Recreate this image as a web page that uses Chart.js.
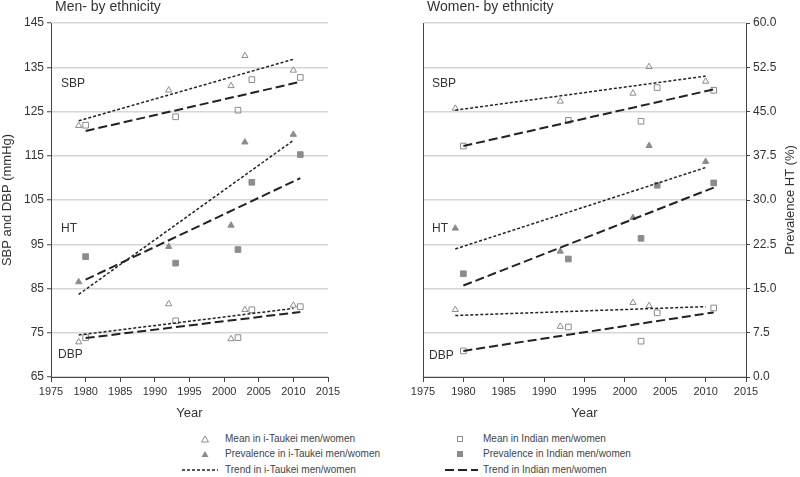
<!DOCTYPE html>
<html lang="en">
<head>
  <meta charset="UTF-8" />
  <title>Blood pressure and hypertension by ethnicity</title>
  <script src="https://cdn.jsdelivr.net/npm/chart.js"></script>
  <style>
    body {
      margin: 0;
      background: #fff;
      font-family: 'Liberation Sans', Arial, sans-serif;
      color: #333;
    }
    #wrap { position: relative; width: 800px; height: 477px; overflow: hidden; }
    canvas { position: absolute; top: 0; }
    .title { position: absolute; top: -2px; font-size: 14px; line-height: 16px; color: #333; }
    .tag { position: absolute; font-size: 12px; line-height: 14px; color: #333; }
    .ytitle2 {
      position: absolute; left: 690px; top: 192px; width: 200px;
      text-align: center; font-size: 13px; line-height: 16px;
      transform: rotate(-90deg);
    }
    .leg { position: absolute; font-size: 10px; line-height: 12px; color: #444; white-space: nowrap; }
    #legsym { position: absolute; left: 0; top: 425px; }
  </style>
</head>
<body>
<div id="wrap">
  <canvas id="men" width="400" height="425" style="left:0"></canvas>
  <canvas id="women" width="400" height="425" style="left:400px"></canvas>

  <div class="title" style="left:55px">Men- by ethnicity</div>
  <div class="title" style="left:427px">Women- by ethnicity</div>

  <div class="tag" style="left:61px; top:76px">SBP</div>
  <div class="tag" style="left:61px; top:221px">HT</div>
  <div class="tag" style="left:58px; top:347px">DBP</div>
  <div class="tag" style="left:432px; top:76px">SBP</div>
  <div class="tag" style="left:432px; top:221px">HT</div>
  <div class="tag" style="left:429px; top:348px">DBP</div>

  <div class="ytitle2">Prevalence HT (%)</div>

  <svg id="legsym" width="800" height="52">
    <polygon points="205,11 208.5,17 201.5,17" fill="none" stroke="#8c8c8c" stroke-width="1" />
    <polygon points="205,26 208.5,32 201.5,32" fill="#8c8c8c" />
    <line x1="182" y1="45" x2="218" y2="45" stroke="#222" stroke-width="1.5" stroke-dasharray="3,2" />
    <rect x="457.5" y="11.5" width="5" height="5" fill="none" stroke="#8c8c8c" stroke-width="1" />
    <rect x="457" y="26" width="6" height="6" fill="#8c8c8c" />
    <line x1="445" y1="45" x2="478" y2="45" stroke="#222" stroke-width="2" stroke-dasharray="9,4" />
  </svg>
  <div class="leg" style="left:225px; top:433px">Mean in i-Taukei men/women</div>
  <div class="leg" style="left:225px; top:448px">Prevalence in i-Taukei men/women</div>
  <div class="leg" style="left:225px; top:464px">Trend in i-Taukei men/women</div>
  <div class="leg" style="left:483px; top:433px">Mean in Indian men/women</div>
  <div class="leg" style="left:483px; top:448px">Prevalence in Indian men/women</div>
  <div class="leg" style="left:483px; top:464px">Trend in Indian men/women</div>
</div>

<script>
  // survey years
  const yearsTk = [1979, 1992, 2001, 2003, 2010];
  const yearsInd = [1980, 1993, 2002, 2004, 2011];

  // men, mmHg
  const menSbpTk = [121.8, 129.8, 130.8, 137.6, 134.3];
  const menSbpInd = [121.9, 123.8, 125.3, 132.2, 132.7];
  const menDbpTk = [72.9, 81.5, 73.6, 80.2, 81.2];
  const menDbpInd = [73.9, 77.7, 73.9, 80.2, 80.9];
  // men, prevalence HT (%)
  const menHtTk = [16.1, 22.1, 25.7, 39.8, 41.1];
  const menHtInd = [20.4, 19.3, 21.6, 33.0, 37.7];

  // women, mmHg
  const womenSbpTk = [125.7, 127.3, 129.1, 135.1, 131.8];
  const womenSbpInd = [117.2, 123.0, 122.8, 130.4, 129.8];
  const womenDbpYearsTk = [1979, 1992, 2001, 2003];
  const womenDbpTk = [80.2, 76.4, 81.8, 81.1];
  const womenDbpInd = [70.9, 76.3, 73.1, 79.5, 80.6];
  // women, prevalence HT (%)
  const womenHtTk = [25.2, 21.3, 27.0, 39.2, 36.5];
  const womenHtInd = [17.5, 20.0, 23.5, 32.5, 32.9];

  // trend lines (start / end)
  const trendYearsTk = [1979, 2010];
  const trendYearsInd = [1980, 2011];
  const menTrendSbpTk = [122.9, 136.8];
  const menTrendSbpInd = [120.6, 131.7];
  const menTrendDbpTk = [74.5, 80.5];
  const menTrendDbpInd = [73.8, 79.7];
  const menTrendHtTk = [14.0, 40.1];
  const menTrendHtInd = [16.5, 33.7];
  const womenTrendSbpTk = [125.3, 133.0];
  const womenTrendSbpInd = [117.2, 130.0];
  const womenTrendDbpTk = [78.9, 80.9];
  const womenTrendDbpInd = [70.9, 79.6];
  const womenTrendHtTk = [21.7, 35.5];
  const womenTrendHtInd = [15.5, 32.1];

  const sans = "'Liberation Sans', Arial, sans-serif";
  const markGrey = '#8c8c8c';

  function pts(xs, ys) {
    return xs.map((x, i) => ({ x: x, y: ys[i] }));
  }

  function marks(xs, ys, style, filled, axis) {
    return {
      data: pts(xs, ys),
      yAxisID: axis,
      showLine: false,
      pointStyle: style,
      pointRadius: style === 'rect' ? 4 : 3.6,
      pointBorderWidth: 1,
      pointBorderColor: markGrey,
      pointBackgroundColor: filled ? markGrey : 'rgba(0,0,0,0)'
    };
  }

  function trend(xs, ys, indian, axis) {
    return {
      data: pts(xs, ys),
      yAxisID: axis,
      showLine: true,
      borderColor: '#222',
      borderWidth: indian ? 2 : 1.5,
      borderDash: indian ? [9, 4] : [3, 2],
      pointRadius: 0,
      fill: false
    };
  }

  function makeOptions(isLeft) {
    return {
      responsive: false,
      animation: false,
      layout: { padding: { top: 23, right: isLeft ? 18 : 0, left: 0, bottom: 0 } },
      plugins: { legend: { display: false }, tooltip: { enabled: false } },
      scales: {
        x: {
          type: 'linear', min: 1975, max: 2015,
          ticks: {
            stepSize: 5, color: '#333', font: { family: sans, size: 11 }, padding: 3,
            maxRotation: 0, autoSkip: false, callback: v => String(v)
          },
          grid: { drawOnChartArea: false, drawTicks: true, tickLength: 5, tickColor: '#444' },
          border: { color: '#444', width: 1 },
          title: { display: true, text: 'Year', color: '#333', font: { family: sans, size: 13 }, padding: { top: 0, bottom: 4 } },
          afterFit: s => { s.height = 48; }
        },
        y: {
          position: 'left', min: 65, max: 145,
          ticks: { display: isLeft, stepSize: 10, color: '#333', font: { family: sans, size: 12 }, padding: 3 },
          grid: { color: '#d6d6d6', lineWidth: 1.5, drawTicks: isLeft, tickLength: 4, tickColor: '#444', tickWidth: 1 },
          border: { color: '#444', width: 1 },
          title: { display: isLeft, text: 'SBP and DBP (mmHg)', color: '#333', font: { family: sans, size: 13 }, padding: { top: 0, bottom: 0 } },
          afterFit: s => { s.width = isLeft ? 51 : 23; }
        },
        y2: {
          position: 'right', min: 0, max: 60, display: !isLeft,
          ticks: { stepSize: 7.5, color: '#333', font: { family: sans, size: 12 }, padding: 3, callback: v => v.toFixed(1) },
          grid: { drawOnChartArea: false, drawTicks: true, tickLength: 4, tickColor: '#444' },
          border: { color: '#444', width: 1 },
          afterFit: s => { s.width = 54; }
        }
      }
    };
  }

  new Chart(document.getElementById('men'), {
    type: 'scatter',
    data: {
      datasets: [
        trend(trendYearsTk, menTrendSbpTk, false, 'y'),
        trend(trendYearsInd, menTrendSbpInd, true, 'y'),
        trend(trendYearsTk, menTrendDbpTk, false, 'y'),
        trend(trendYearsInd, menTrendDbpInd, true, 'y'),
        trend(trendYearsTk, menTrendHtTk, false, 'y2'),
        trend(trendYearsInd, menTrendHtInd, true, 'y2'),
        marks(yearsTk, menSbpTk, 'triangle', false, 'y'),
        marks(yearsInd, menSbpInd, 'rect', false, 'y'),
        marks(yearsTk, menDbpTk, 'triangle', false, 'y'),
        marks(yearsInd, menDbpInd, 'rect', false, 'y'),
        marks(yearsTk, menHtTk, 'triangle', true, 'y2'),
        marks(yearsInd, menHtInd, 'rect', true, 'y2')
      ]
    },
    options: makeOptions(true)
  });

  new Chart(document.getElementById('women'), {
    type: 'scatter',
    data: {
      datasets: [
        trend(trendYearsTk, womenTrendSbpTk, false, 'y'),
        trend(trendYearsInd, womenTrendSbpInd, true, 'y'),
        trend(trendYearsTk, womenTrendDbpTk, false, 'y'),
        trend(trendYearsInd, womenTrendDbpInd, true, 'y'),
        trend(trendYearsTk, womenTrendHtTk, false, 'y2'),
        trend(trendYearsInd, womenTrendHtInd, true, 'y2'),
        marks(yearsTk, womenSbpTk, 'triangle', false, 'y'),
        marks(yearsInd, womenSbpInd, 'rect', false, 'y'),
        marks(womenDbpYearsTk, womenDbpTk, 'triangle', false, 'y'),
        marks(yearsInd, womenDbpInd, 'rect', false, 'y'),
        marks(yearsTk, womenHtTk, 'triangle', true, 'y2'),
        marks(yearsInd, womenHtInd, 'rect', true, 'y2')
      ]
    },
    options: makeOptions(false)
  });
</script>
</body>
</html>
